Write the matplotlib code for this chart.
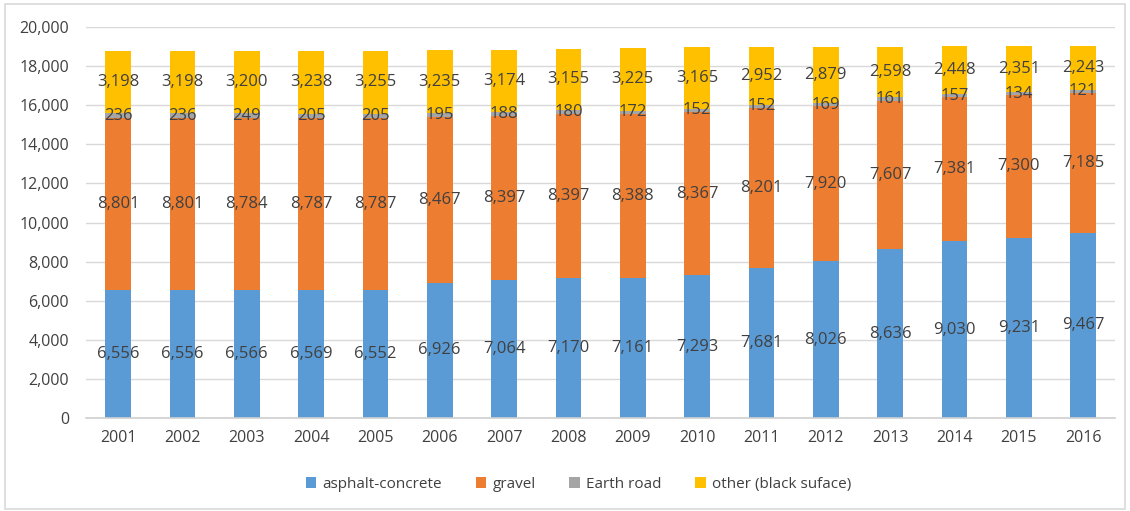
import matplotlib.pyplot as plt
import numpy as np
from matplotlib.patches import Rectangle

# road network by surface type, km
years = [str(y) for y in range(2001, 2017)]
asphalt = [6556, 6556, 6566, 6569, 6552, 6926, 7064, 7170, 7161, 7293, 7681, 8026, 8636, 9030, 9231, 9467]
gravel = [8801, 8801, 8784, 8787, 8787, 8467, 8397, 8397, 8388, 8367, 8201, 7920, 7607, 7381, 7300, 7185]
earth = [236, 236, 249, 205, 205, 195, 188, 180, 172, 152, 152, 169, 161, 157, 134, 121]
other = [3198, 3198, 3200, 3238, 3255, 3235, 3174, 3155, 3225, 3165, 2952, 2879, 2598, 2448, 2351, 2243]

series = [
    ("asphalt-concrete", asphalt, "#5b9bd5"),
    ("gravel", gravel, "#ed7d31"),
    ("Earth road", earth, "#a5a5a5"),
    ("other (black suface)", other, "#ffc000"),
]

plt.rcParams['font.family'] = ['Open Sans', 'DejaVu Sans']
text_col = "#404040"

fig = plt.figure(figsize=(11.3, 5.11), dpi=100)
ax = fig.add_axes([0.076, 0.182, 0.911, 0.765])

x = np.arange(len(years))
bottom = np.zeros(len(years))
for name, vals, col in series:
    vals = np.array(vals)
    ax.bar(x, vals, width=0.4, bottom=bottom, color=col, label=name, zorder=2)
    for xi, b, v in zip(x, bottom, vals):
        ax.text(xi, b + v / 2, "{:,}".format(v), ha="center", va="center",
                fontsize=12, color=text_col, zorder=3)
    bottom += vals

ax.set_xlim(-0.5, len(years) - 0.5)
ax.set_ylim(0, 20000)
ax.set_yticks(range(0, 20001, 2000))
ax.set_yticklabels(["{:,}".format(v) for v in range(0, 20001, 2000)])
ax.set_xticks(x)
ax.set_xticklabels(years)
ax.tick_params(axis="both", length=0, labelsize=11.5, labelcolor=text_col)
ax.tick_params(axis="x", pad=9)
ax.tick_params(axis="y", pad=12)
ax.grid(axis="y", color="#d9d9d9", linewidth=1, zorder=0)
for s in ["top", "right", "left"]:
    ax.spines[s].set_visible(False)
ax.spines["bottom"].set_color("#d0d0d0")
ax.spines["bottom"].set_linewidth(1.2)

leg = fig.legend(loc="center", bbox_to_anchor=(0.512, 0.052), ncol=4, frameon=False,
                 fontsize=11, handlelength=0.7, handleheight=0.7, handletextpad=0.4,
                 columnspacing=2.2)
for t in leg.get_texts():
    t.set_color(text_col)

fig.patches.append(Rectangle((0.004, 0.004), 0.992, 0.988, transform=fig.transFigure,
                             fill=False, edgecolor="#d9d9d9", linewidth=1.2))

fig.savefig("out.png", dpi=100)
